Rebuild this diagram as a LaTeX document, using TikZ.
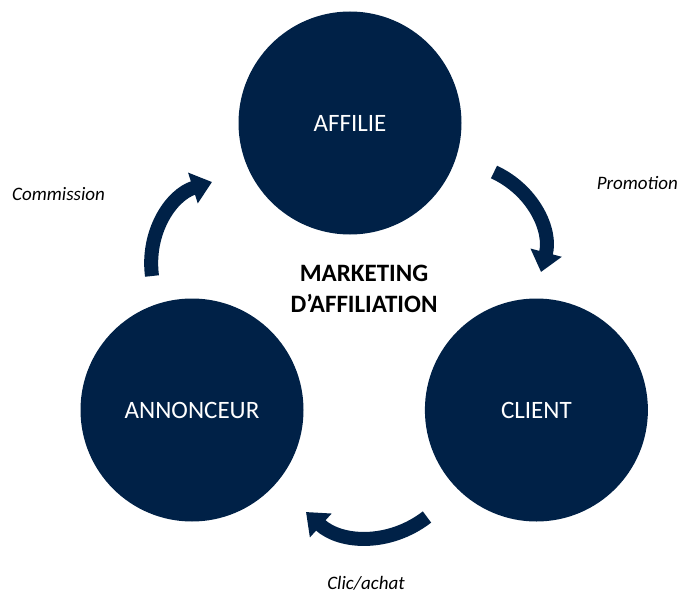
\documentclass[tikz,border=0pt]{standalone}
\usepackage{fontspec}
\setmainfont{Carlito}
\usetikzlibrary{positioning,arrows.meta}
\definecolor{navy}{RGB}{0,33,71}
\tikzset{
  actor/.style={circle, fill=navy, minimum size=223pt, inner sep=0pt,
    text=white, font=\fontsize{25}{30}\selectfont},
  flow/.style={navy, line width=14pt, -{Triangle[width=31pt,length=20pt]}},
  flowlabel/.style={font=\fontsize{19}{22}\selectfont\itshape, text=black, inner sep=1pt}
}

\begin{document}
\begin{tikzpicture}[x=1pt,y=-1pt]
  \useasboundingbox (0,0) rectangle (680,594);

  \node[actor] (affilie) at (350,123) {AFFILIE};
  \node[actor] (annonceur) at (192,410) {ANNONCEUR};
  \node[actor, right=121pt of annonceur] (client) {CLIENT};

  \node[align=center, font=\fontsize{25}{31}\selectfont\bfseries] (title) at (364,289)
    {MARKETING\\D’AFFILIATION};

  % curved arrows between the actors
  \coordinate (promo-s) at (494,172);
  \coordinate (promo-e) at (541,272);
  \coordinate (clic-s) at (427,517);
  \coordinate (clic-e) at (306,512);
  \coordinate (comm-s) at (152,276);
  \coordinate (comm-e) at (212,182);

  \draw[flow] (promo-s) to[bend left=40] (promo-e);
  \draw[flow] (clic-s) to[bend left=40] (clic-e);
  \draw[flow] (comm-s) to[bend left=40] (comm-e);

  \node[flowlabel, anchor=east] (promo) at (679,183) {Promotion};
  \node[flowlabel, anchor=west] (comm) at (11,194) {Commission};
  \node[flowlabel] (clic) at (366,583) {Clic/achat};
\end{tikzpicture}
\end{document}
